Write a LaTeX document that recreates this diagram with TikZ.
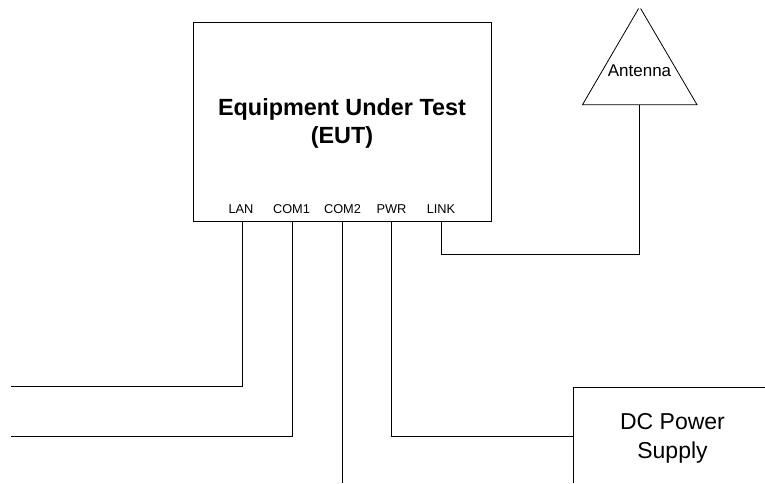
\documentclass[tikz,border=0pt]{standalone}
\usepackage{fontspec}
\setmainfont{Liberation Sans}

\tikzset{
    wire/.style={draw=black, line width=0.8pt},
    portlabel/.style={font=\fontsize{12.8}{15}\selectfont, inner sep=0pt, anchor=base},
    boxtext/.style={font=\fontsize{23}{28.5}\selectfont, align=center, inner sep=0pt}
}

\begin{document}
\begin{tikzpicture}[x=1pt, y=-1pt]

\useasboundingbox (0,0) rectangle (765,483);

% EUT

\node[
    wire,
    anchor=north west,
    minimum width=298.5pt,
    minimum height=198.5pt,
    inner sep=0pt
] (eut) at (192.7,22) {};

\node[boxtext, font=\bfseries\fontsize{23.4}{28.5}\selectfont] (euttext) at (342,123.5) {Equipment Under Test\\(EUT)};

% Ports

\node[portlabel] (lanlabel) at (241,213.5) {LAN};
\node[portlabel] (comonelabel) at (291.5,213.5) {COM1};
\node[portlabel] (comtwolabel) at (342.5,213.5) {COM2};
\node[portlabel] (pwrlabel) at (391.5,213.5) {PWR};
\node[portlabel] (linklabel) at (441,213.5) {LINK};

\coordinate (lan) at (242.5,220.5);
\coordinate (comone) at (292.3,220.5);
\coordinate (comtwo) at (342,220.5);
\coordinate (pwr) at (391.3,220.5);
\coordinate (link) at (441,220.5);

% Antenna

\coordinate (antbase) at (639.5,104.7);
\coordinate (cornerleft) at (582.5,104.7);
\coordinate (cornerright) at (697,104.7);
\draw[wire] (638.6,8.5) -- (cornerleft) -- (cornerright) -- (640.6,8.5);
\node[font=\fontsize{17}{20}\selectfont, inner sep=0pt] (antenna) at (639.5,71) {Antenna};

% Supply

\coordinate (psutop) at (573,387);
\coordinate (psupwr) at (573,436.7);
\draw[wire] (765,387) -- (psutop) -- (573,483);
\node[boxtext] (psu) at (672.5,438.5) {DC Power\\Supply};

% Lines

\coordinate (lanend) at (10.5,386.7);
\coordinate (comoneend) at (10.5,436.7);
\coordinate (comtwoend) at (342,483);
\coordinate (linkbend) at (639.5,254);

\draw[wire] (lan) |- (lanend);
\draw[wire] (comone) |- (comoneend);
\draw[wire] (comtwo) -- (comtwoend);
\draw[wire] (pwr) |- (psupwr);
\draw[wire] (link) |- (linkbend) -- (antbase);

\end{tikzpicture}
\end{document}
